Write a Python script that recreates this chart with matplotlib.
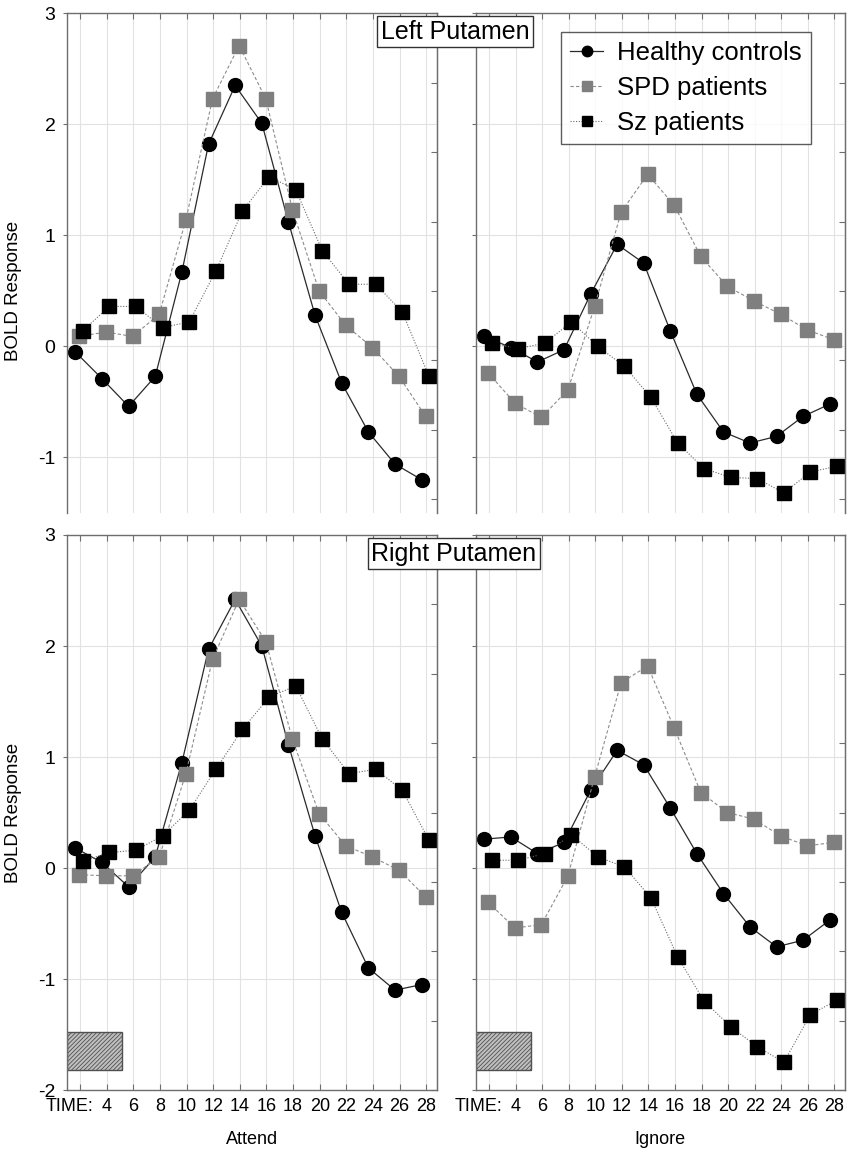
import numpy as np
import matplotlib
matplotlib.use("Agg")
import matplotlib.pyplot as plt
from matplotlib.patches import Rectangle

plt.rcParams['font.family'] = ['Liberation Sans', 'DejaVu Sans']
plt.rcParams['hatch.linewidth'] = 0.6
plt.rcParams['axes.unicode_minus'] = False

# time points (s) and tick labels
time = [2, 4, 6, 8, 10, 12, 14, 16, 18, 20, 22, 24, 26, 28]
xtick_labels = ['', '4', '6', '8', '10', '12', '14', '16', '18', '20', '22', '24', '26', '28']
groups = ['Healthy controls', 'SPD patients', 'Sz patients']

# Left Putamen - Attend
hc_left_attend = [-0.05, -0.29, -0.54, -0.27, 0.67, 1.82, 2.35, 2.01, 1.12, 0.28, -0.33, -0.77, -1.06, -1.20]
spd_left_attend = [0.09, 0.13, 0.09, 0.29, 1.14, 2.23, 2.71, 2.23, 1.23, 0.50, 0.19, -0.01, -0.27, -0.63]
sz_left_attend = [0.14, 0.36, 0.36, 0.17, 0.22, 0.68, 1.22, 1.53, 1.41, 0.86, 0.56, 0.56, 0.31, -0.27]

# Left Putamen - Ignore
hc_left_ignore = [0.09, -0.01, -0.14, -0.03, 0.47, 0.92, 0.75, 0.14, -0.43, -0.77, -0.87, -0.81, -0.63, -0.52]
spd_left_ignore = [-0.24, -0.51, -0.64, -0.39, 0.36, 1.21, 1.55, 1.27, 0.81, 0.54, 0.41, 0.29, 0.15, 0.06]
sz_left_ignore = [0.03, -0.02, 0.03, 0.22, 0.00, -0.18, -0.46, -0.87, -1.10, -1.18, -1.19, -1.32, -1.13, -1.08]

# Right Putamen - Attend
hc_right_attend = [0.18, 0.05, -0.17, 0.10, 0.95, 1.97, 2.42, 2.00, 1.11, 0.29, -0.40, -0.90, -1.10, -1.05]
spd_right_attend = [-0.06, -0.07, -0.07, 0.10, 0.85, 1.88, 2.42, 2.04, 1.16, 0.49, 0.20, 0.10, -0.02, -0.26]
sz_right_attend = [0.06, 0.14, 0.16, 0.29, 0.52, 0.89, 1.25, 1.54, 1.64, 1.16, 0.85, 0.89, 0.70, 0.25]

# Right Putamen - Ignore
hc_right_ignore = [0.26, 0.28, 0.13, 0.23, 0.70, 1.06, 0.93, 0.54, 0.13, -0.23, -0.53, -0.71, -0.65, -0.47]
spd_right_ignore = [-0.31, -0.54, -0.51, -0.07, 0.82, 1.67, 1.82, 1.26, 0.68, 0.50, 0.44, 0.29, 0.20, 0.23]
sz_right_ignore = [0.07, 0.07, 0.13, 0.30, 0.10, 0.01, -0.27, -0.80, -1.20, -1.43, -1.61, -1.75, -1.32, -1.19]

# stimulus block (x from, x to, y from, y to)
stim_block = (1.0, 5.17, -1.82, -1.48)

fig = plt.figure(figsize=(8.47, 11.59), dpi=100)

spine_col = '#6e6e6e'
grid_col = '#e2e2e2'


def draw_panel(ax, hc, spd, sz, ylim, left, bottom_row):
    x = np.array(time, dtype=float)
    ax.plot(x - 0.35, hc, color='#2a2a2a', lw=0.9, ls='-', marker='o', ms=10,
            mfc='black', mec='black', label=groups[0], zorder=2)
    ax.plot(x - 0.05, spd, color='#8c8c8c', lw=0.8, ls=(0, (3, 2)), marker='s', ms=9.5,
            mfc='#7f7f7f', mec='#7f7f7f', label=groups[1], zorder=2.2)
    ax.plot(x + 0.2, sz, color='#6a6a6a', lw=0.8, ls=(0, (1, 1.5)), marker='s', ms=10,
            mfc='black', mec='black', label=groups[2], zorder=2.4)

    ax.set_xlim(1, 28.8)
    ax.set_ylim(*ylim)
    ax.set_xticks(time)
    yt = np.arange(np.ceil(ylim[0]), ylim[1] + 0.1, 1)
    ax.set_yticks(yt)
    ax.grid(True, color=grid_col, lw=0.8, zorder=0)
    ax.set_axisbelow(True)

    for s in ax.spines.values():
        s.set_color(spine_col)
        s.set_linewidth(1.0)
    ax.spines['bottom'].set_visible(bottom_row)

    ax.tick_params(axis='x', which='both', top=True, bottom=bottom_row, direction='in',
                   length=4, color=spine_col, labelbottom=bottom_row, labelsize=13, pad=6)
    ax.tick_params(axis='y', direction='out', length=3, color=spine_col,
                   labelleft=left, labelsize=14, pad=5, right=False)
    if bottom_row:
        ax.set_xticklabels(xtick_labels)
        ax.annotate('TIME:', xy=(1.25, 0), xycoords=('data', 'axes fraction'),
                    xytext=(0, -6), textcoords='offset points', ha='center', va='top',
                    fontsize=13, annotation_clip=False)
        ax.add_patch(Rectangle((stim_block[0], stim_block[2]), stim_block[1] - stim_block[0],
                               stim_block[3] - stim_block[2], facecolor='#bfbfbf',
                               edgecolor='#505050', hatch='////////', lw=1.0, zorder=1.5))

    sec = ax.secondary_yaxis('right')
    sec.set_yticks(np.arange(-2, 3.01, 0.625))
    sec.tick_params(direction='in', length=4, color=spine_col, labelright=False)
    sec.spines['right'].set_color(spine_col)

    if left:
        ax.set_ylabel('BOLD Response', fontsize=13.5)
        ax.yaxis.set_label_coords(-0.1215, (0.5 - ylim[0]) / (ylim[1] - ylim[0]))


ax_tl = fig.add_axes([0.0787, 0.5574, 0.4372, 0.4311])
ax_tr = fig.add_axes([0.5616, 0.5574, 0.4360, 0.4311])
ax_bl = fig.add_axes([0.0787, 0.0595, 0.4372, 0.4789])
ax_br = fig.add_axes([0.5616, 0.0595, 0.4360, 0.4789])

draw_panel(ax_tl, hc_left_attend, spd_left_attend, sz_left_attend, (-1.5, 3), True, False)
draw_panel(ax_tr, hc_left_ignore, spd_left_ignore, sz_left_ignore, (-1.5, 3), False, False)
draw_panel(ax_bl, hc_right_attend, spd_right_attend, sz_right_attend, (-2, 3), True, True)
draw_panel(ax_br, hc_right_ignore, spd_right_ignore, sz_right_ignore, (-2, 3), False, True)

ax_bl.set_xlabel('Attend', fontsize=13, labelpad=11)
ax_br.set_xlabel('Ignore', fontsize=13, labelpad=11)

leg = ax_tr.legend(loc='upper right', bbox_to_anchor=(0.908, 0.9626), fontsize=18.5,
                   frameon=True, fancybox=False, handlelength=1.3, handletextpad=0.55,
                   borderpad=0.35, labelspacing=0.42, borderaxespad=0.0, markerscale=0.75)
leg.get_frame().set_edgecolor('#333333')
leg.get_frame().set_linewidth(1.0)

box = dict(boxstyle='square,pad=0.15', fc='white', ec='#333333', lw=1.0)
fig.text(455 / 847, 1 - 31.7 / 1159, 'Left Putamen', ha='center', va='center',
         fontsize=18, bbox=box, zorder=10)
fig.text(454 / 847, 1 - 553.5 / 1159, 'Right Putamen', ha='center', va='center',
         fontsize=18, bbox=box, zorder=10)

fig.savefig('out.png', dpi=100)
